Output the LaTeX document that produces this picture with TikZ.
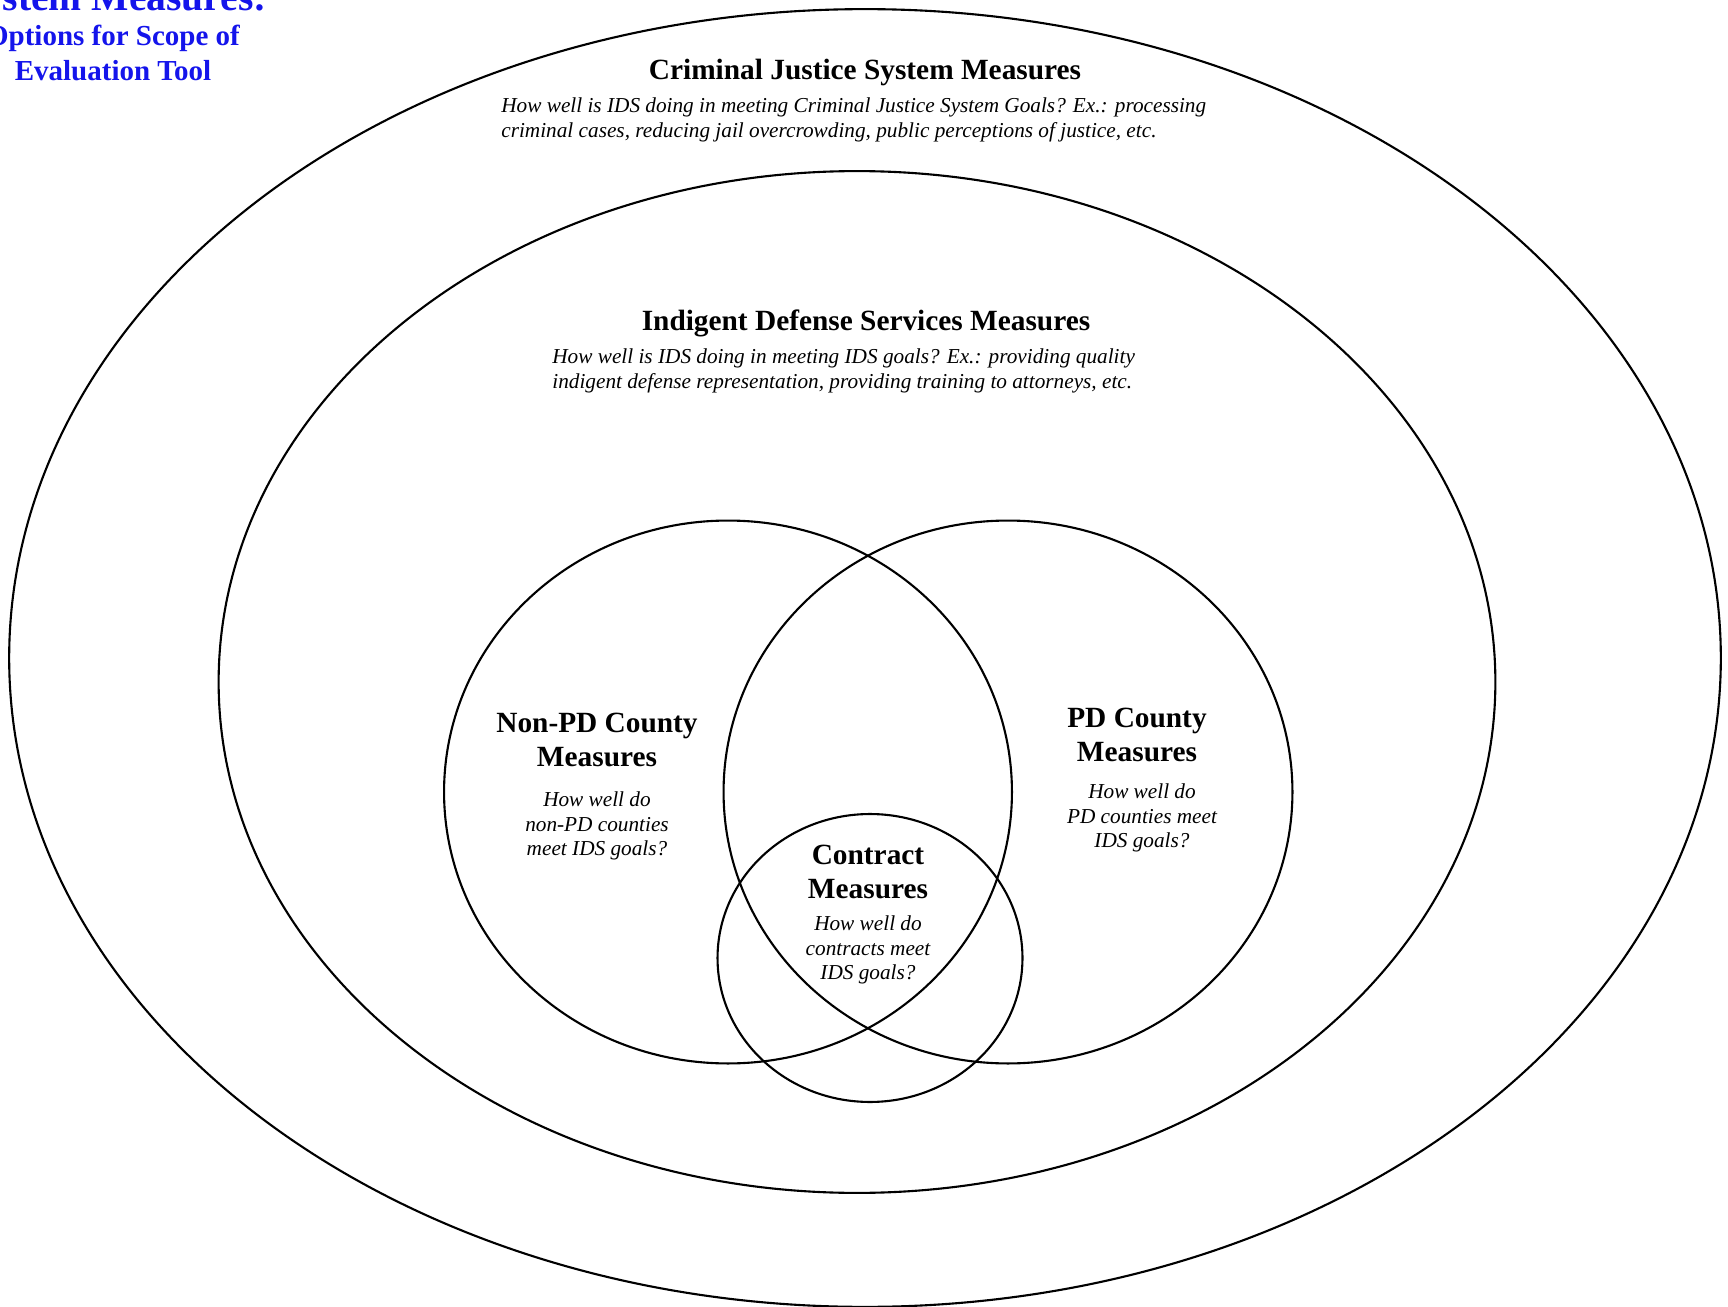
\documentclass[tikz,border=0pt]{standalone}
\usepackage{fontspec}
\setmainfont{Liberation Serif}
\usetikzlibrary{shapes.geometric,positioning}
\definecolor{scopeBlue}{RGB}{20,20,235}

\begin{document}
\begin{tikzpicture}[
  x=0.02cm,y=-0.02cm,
  ring/.style={draw,ellipse,line width=1.2pt,inner sep=0pt,outer sep=0pt},
  head/.style={font=\fontsize{16.7}{19.5}\selectfont\bfseries,align=center,inner sep=0pt},
  note/.style={font=\fontsize{12.1}{13.8}\selectfont\itshape,align=center,inner sep=0pt},
  scopehead/.style={font=\fontsize{16.5}{19.5}\selectfont\bfseries,text=scopeBlue,align=center,inner sep=0pt}
]
  \useasboundingbox (0,0) rectangle (1728,1307);
  % nested scopes
  \node[ring,minimum width=34.24cm,minimum height=25.96cm] (cjs) at (865,658) {};
  \node[ring,minimum width=25.54cm,minimum height=20.44cm] (ids) at (857,682) {};
  % county types
  \node[ring,minimum width=11.36cm,minimum height=10.86cm] (nonpd) at (728,792) {};
  \node[ring,minimum width=11.38cm,minimum height=10.86cm] (pd) at (1008,792) {};
  \node[ring,minimum width=6.10cm,minimum height=5.76cm] (contract) at (870,958) {};

  % corner title
  \node[scopehead,font=\fontsize{22.5}{25}\selectfont\bfseries,anchor=base east] (scopetop) at (267,11) {System Measures:};
  \node[scopehead] (scopetitle) at (113,53) {Options for Scope of\\Evaluation Tool};

  % labels
  \node[head,anchor=base] (cjstitle) at (865,80) {Criminal Justice System Measures};
  \node[note,align=left,anchor=west] (cjsnote) at (501,120) {How well is IDS doing in meeting Criminal Justice System Goals? Ex.: processing\\criminal cases, reducing jail overcrowding, public perceptions of justice, etc.};
  \node[head,anchor=base] (idstitle) at (866,331) {Indigent Defense Services Measures};
  \node[note,align=left,anchor=west] (idsnote) at (552,371) {How well is IDS doing in meeting IDS goals? Ex.: providing quality\\indigent defense representation, providing training to attorneys, etc.};
  \node[head] (nonpdtitle) at (597,740) {Non-PD County\\Measures};
  \node[note] (nonpdnote) at (597,826) {How well do\\non-PD counties\\meet IDS goals?};
  \node[head] (pdtitle) at (1137,735) {PD County\\Measures};
  \node[note] (pdnote) at (1142,818) {How well do\\PD counties meet\\IDS goals?};
  \node[head] (contracttitle) at (868,872) {Contract\\Measures};
  \node[note] (contractnote) at (868,950) {How well do\\contracts meet\\IDS goals?};
\end{tikzpicture}
\end{document}
